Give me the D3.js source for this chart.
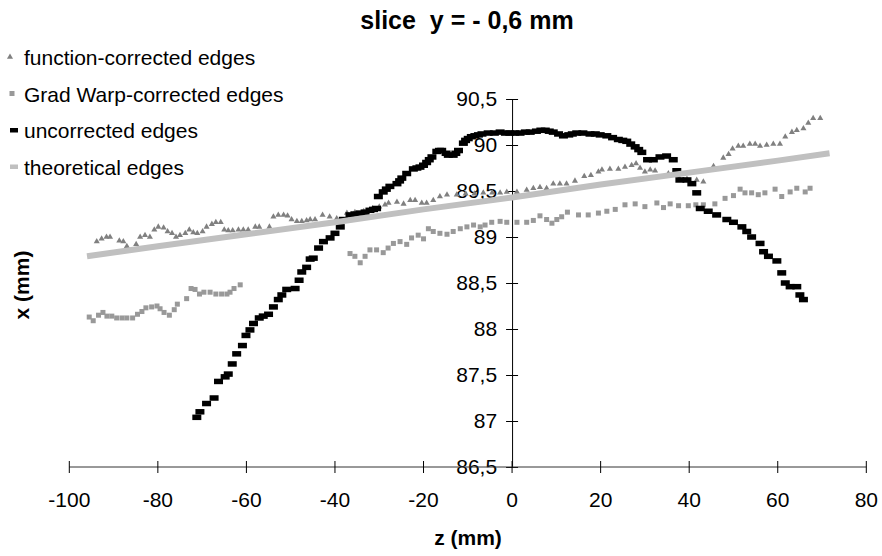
<!DOCTYPE html>
<html>
<head>
<meta charset="utf-8">
<script src="https://cdn.jsdelivr.net/npm/d3@7"></script>
<style>
  body { margin: 0; background: #fff; }
  svg { display: block; }
  text { font-family: "Liberation Sans", Arial, sans-serif; fill: #000; }
</style>
</head>
<body>
<div id="chart"></div>
<script>
// tick values
var zTicks = [-100, -80, -60, -40, -20, 0, 20, 40, 60, 80];
var xTicks = [86.5, 87, 87.5, 88, 88.5, 89, 89.5, 90, 90.5];

var seriesNames = ["function-corrected edges", "Grad Warp-corrected edges", "uncorrected edges", "theoretical edges"];

// [z (mm), x (mm)]
var funcEdges = [
  [-93.8, 88.95], [-92.7, 88.98], [-91.6, 89.00], [-90.8, 89.00], [-88.7, 88.96], [-87.8, 88.95],
  [-87.0, 88.90], [-84.9, 88.92], [-84.0, 89.00], [-82.9, 89.02], [-81.8, 89.00], [-80.8, 89.08],
  [-79.9, 89.11], [-78.7, 89.10], [-77.8, 89.06], [-76.8, 89.04], [-75.9, 89.00], [-75.0, 89.02],
  [-73.8, 89.04], [-72.9, 89.08], [-72.0, 89.05], [-71.1, 89.04], [-69.9, 89.06], [-69.0, 89.11],
  [-67.8, 89.14], [-66.9, 89.16], [-65.8, 89.16], [-65.0, 89.08], [-64.1, 89.07], [-63.1, 89.07],
  [-61.8, 89.08], [-60.7, 89.08], [-59.6, 89.08], [-58.0, 89.11], [-57.1, 89.11], [-54.8, 89.11],
  [-53.9, 89.22], [-52.8, 89.24], [-51.6, 89.24], [-50.7, 89.23], [-49.8, 89.19], [-48.6, 89.17],
  [-47.5, 89.17], [-46.4, 89.18], [-45.6, 89.19], [-44.5, 89.19], [-42.8, 89.24], [-41.2, 89.22],
  [-39.6, 89.20], [-37.3, 89.26], [-35.5, 89.27], [-33.5, 89.28], [-31.5, 89.31], [-30.0, 89.33],
  [-28.7, 89.35], [-27.9, 89.37], [-26.0, 89.38], [-24.5, 89.36], [-23.0, 89.40], [-21.9, 89.40],
  [-20.4, 89.37], [-19.3, 89.37], [-17.8, 89.40], [-16.3, 89.44], [-14.7, 89.46], [-12.5, 89.46],
  [-10.5, 89.47], [-8.5, 89.47], [-6.5, 89.48], [-4.5, 89.48], [-2.7, 89.48], [-1.2, 89.49],
  [1.1, 89.49], [3.3, 89.51], [4.8, 89.53], [6.3, 89.54], [7.8, 89.53], [9.3, 89.58],
  [10.8, 89.58], [12.3, 89.58], [14.2, 89.61], [16.3, 89.66], [17.8, 89.67], [19.5, 89.71],
  [20.3, 89.73], [22.1, 89.74], [24.0, 89.74], [25.5, 89.76], [27.0, 89.78], [28.0, 89.80],
  [28.9, 89.75], [30.0, 89.71], [31.2, 89.73], [32.3, 89.72], [35.3, 89.69], [37.5, 89.66],
  [39.5, 89.63], [41.7, 89.62], [43.2, 89.60], [45.5, 89.77], [47.7, 89.86], [48.9, 89.90],
  [49.8, 89.96], [51.1, 89.99], [52.2, 89.99], [53.7, 90.01], [54.9, 90.01], [56.0, 89.99],
  [57.5, 90.00], [59.0, 90.01], [60.5, 90.01], [61.7, 90.09], [63.2, 90.14], [64.3, 90.16],
  [65.8, 90.18], [66.9, 90.24], [68.0, 90.29], [69.6, 90.29]
];

var gradWarpEdges = [
  [-95.5, 88.13], [-94.6, 88.09], [-93.4, 88.15], [-92.4, 88.18], [-91.5, 88.14], [-90.4, 88.14],
  [-89.3, 88.12], [-88.1, 88.12], [-87.0, 88.12], [-85.7, 88.12], [-84.6, 88.16], [-83.6, 88.19],
  [-82.7, 88.23], [-81.4, 88.24], [-80.2, 88.25], [-79.5, 88.22], [-78.6, 88.18], [-77.4, 88.15],
  [-76.3, 88.21], [-75.6, 88.27], [-73.5, 88.33], [-72.5, 88.44], [-71.6, 88.43], [-70.6, 88.38],
  [-69.6, 88.40], [-68.2, 88.40], [-66.9, 88.38], [-65.6, 88.38], [-64.4, 88.38], [-63.7, 88.40],
  [-62.8, 88.44], [-61.4, 88.48],
  [-36.6, 88.82], [-35.5, 88.79], [-34.3, 88.72], [-33.2, 88.79], [-32.1, 88.86], [-30.6, 88.86],
  [-29.1, 88.83], [-28.0, 88.88], [-26.8, 88.93], [-25.3, 88.95], [-23.8, 88.92], [-22.7, 88.99],
  [-21.2, 89.02], [-20.0, 88.98], [-18.9, 89.09], [-17.8, 89.06], [-16.3, 89.04], [-14.7, 89.03],
  [-13.3, 89.06], [-11.7, 89.09], [-10.2, 89.11], [-8.7, 89.13], [-7.2, 89.11], [-6.1, 89.13],
  [-4.6, 89.16], [-2.7, 89.17], [-1.2, 89.16], [1.1, 89.16], [3.3, 89.16], [4.8, 89.18],
  [6.3, 89.23], [7.8, 89.19], [9.0, 89.15], [10.1, 89.19], [11.2, 89.22], [12.5, 89.27],
  [15.0, 89.24], [17.2, 89.24], [19.5, 89.26], [21.4, 89.28], [23.3, 89.30], [25.5, 89.35],
  [27.8, 89.36], [30.0, 89.33], [32.7, 89.37], [34.2, 89.32], [35.7, 89.36], [37.6, 89.34],
  [39.8, 89.34], [41.5, 89.35], [43.2, 89.35], [45.8, 89.36], [48.1, 89.42], [50.0, 89.45],
  [51.5, 89.52], [52.6, 89.48], [54.1, 89.48], [55.6, 89.46], [57.1, 89.48], [59.4, 89.52],
  [60.9, 89.44], [62.8, 89.49], [64.3, 89.53], [66.2, 89.49], [67.3, 89.53]
];

var uncorrectedEdges = [
  [-71.2, 87.04], [-70.5, 87.10], [-69.0, 87.19], [-67.3, 87.25], [-66.3, 87.43], [-64.8, 87.48],
  [-64.1, 87.51], [-63.2, 87.62], [-62.2, 87.73], [-60.9, 87.82], [-60.1, 87.93], [-59.2, 87.99],
  [-58.4, 88.06], [-57.1, 88.12], [-56.2, 88.14], [-55.0, 88.16], [-53.9, 88.24], [-52.8, 88.32],
  [-52.0, 88.37], [-50.9, 88.43], [-49.0, 88.44], [-48.1, 88.53], [-47.5, 88.62], [-46.4, 88.67],
  [-45.6, 88.76], [-44.9, 88.77], [-43.7, 88.88], [-42.6, 88.95], [-41.1, 88.99], [-40.0, 89.04],
  [-38.8, 89.11], [-38.1, 89.19], [-36.6, 89.24], [-35.5, 89.25], [-34.3, 89.26], [-33.2, 89.27],
  [-32.1, 89.29], [-31.3, 89.30], [-30.6, 89.31], [-30.2, 89.44], [-29.1, 89.49], [-28.4, 89.52],
  [-27.6, 89.55], [-26.0, 89.58], [-25.4, 89.61], [-24.9, 89.64], [-23.8, 89.69], [-22.3, 89.74],
  [-21.5, 89.75], [-20.8, 89.76], [-20.0, 89.78], [-19.3, 89.81], [-18.7, 89.84], [-18.1, 89.87],
  [-17.0, 89.93], [-16.4, 89.94], [-15.9, 89.94], [-14.9, 89.91], [-14.4, 89.89], [-13.3, 89.89],
  [-12.7, 89.91], [-12.1, 89.94], [-11.0, 90.02], [-10.5, 90.05], [-9.9, 90.07], [-9.2, 90.09],
  [-8.4, 90.10], [-7.6, 90.11], [-6.8, 90.12], [-5.4, 90.13], [-4.0, 90.13], [-2.7, 90.14],
  [-1.5, 90.13], [-0.5, 90.13], [0.6, 90.13], [1.8, 90.13], [3.0, 90.14], [4.1, 90.14],
  [5.5, 90.15], [6.5, 90.16], [7.5, 90.16], [8.4, 90.15], [9.3, 90.14], [10.5, 90.12],
  [11.6, 90.10], [12.8, 90.11], [13.6, 90.12], [14.6, 90.13], [16.0, 90.13], [17.6, 90.12],
  [18.8, 90.12], [19.9, 90.11], [21.4, 90.10], [22.7, 90.08], [24.0, 90.06], [25.0, 90.05],
  [25.9, 90.04], [26.8, 90.01], [27.8, 89.98], [28.6, 89.95], [29.3, 89.92], [30.6, 89.84],
  [31.9, 89.84], [33.4, 89.87], [34.9, 89.88], [36.4, 89.84], [37.2, 89.72], [37.9, 89.62],
  [39.5, 89.62], [40.6, 89.58], [41.7, 89.48], [42.5, 89.31], [44.3, 89.28], [46.2, 89.24],
  [48.5, 89.19], [50.0, 89.16], [51.9, 89.11], [53.0, 89.06], [54.1, 89.00], [56.0, 88.93],
  [56.8, 88.84], [57.9, 88.79], [59.8, 88.74], [60.9, 88.61], [61.7, 88.50], [62.8, 88.46],
  [64.3, 88.46], [65.0, 88.37], [65.8, 88.32]
];

var theoreticalEdges = [
  [-96, 88.79], [-80, 88.90], [-60, 89.03], [-40, 89.16], [-20, 89.30],
  [0, 89.43], [20, 89.57], [40, 89.70], [60, 89.83], [71.7, 89.91]
];

var width = 882, height = 556;

var svg = d3.select("#chart").append("svg")
  .attr("width", width)
  .attr("height", height);

var xScale = d3.scaleLinear().domain([-100, 80]).range([69.3, 866.3]);
var yScale = d3.scaleLinear().domain([86.5, 90.5]).range([467, 99]);

var loc = d3.formatLocale({ decimal: ",", thousands: ".", grouping: [3], currency: ["", ""], minus: "-" });
var fmt = loc.format("~f");

// title
svg.append("text")
  .attr("x", 467).attr("y", 29)
  .attr("text-anchor", "middle")
  .style("font-size", "25px").style("font-weight", "bold")
  .attr("xml:space", "preserve")
  .text("slice  y = - 0,6 mm");

// y axis (crossing at z = 0)
var yAxis = svg.append("g")
  .attr("transform", "translate(" + xScale(0) + ",0)")
  .call(d3.axisLeft(yScale).tickValues(xTicks).tickSizeInner(6).tickSizeOuter(0).tickPadding(9).tickFormat(fmt));
yAxis.selectAll(".tick line").attr("x1", 6);
yAxis.selectAll("text").style("font-size", "21px").style("font-family", "'Liberation Sans', Arial, sans-serif");
yAxis.select(".domain").attr("stroke", "#000");

// x axis at bottom
var xAxis = svg.append("g")
  .attr("transform", "translate(0," + yScale(86.5) + ")")
  .call(d3.axisBottom(xScale).tickValues(zTicks).tickSizeInner(6).tickSizeOuter(0).tickPadding(19).tickFormat(fmt).offset(0));
xAxis.selectAll(".tick line").attr("y1", -6);
xAxis.selectAll("text").style("font-size", "21px").style("font-family", "'Liberation Sans', Arial, sans-serif");
xAxis.select(".domain").attr("stroke", "#333");

// axis titles
svg.append("text")
  .attr("x", 468).attr("y", 545)
  .attr("text-anchor", "middle")
  .style("font-size", "21px").style("font-weight", "bold")
  .text("z (mm)");

svg.append("text")
  .attr("transform", "translate(29,285) rotate(-90)")
  .attr("text-anchor", "middle")
  .style("font-size", "21px").style("font-weight", "bold")
  .text("x (mm)");

// series
var tri = d3.symbol().type(d3.symbolTriangle).size(16);

svg.append("g").selectAll("path")
  .data(funcEdges)
  .enter().append("path")
  .attr("d", tri)
  .attr("transform", function(d) { return "translate(" + xScale(d[0]) + "," + yScale(d[1]) + ")"; })
  .attr("fill", "#808080");

svg.append("g").selectAll("rect")
  .data(gradWarpEdges)
  .enter().append("rect")
  .attr("x", function(d) { return xScale(d[0]) - 2.5; })
  .attr("y", function(d) { return yScale(d[1]) - 2.5; })
  .attr("width", 5).attr("height", 5)
  .attr("fill", "#999999");

svg.append("g").selectAll("rect")
  .data(uncorrectedEdges)
  .enter().append("rect")
  .attr("x", function(d) { return xScale(d[0]) - 4.5; })
  .attr("y", function(d) { return yScale(d[1]) - 2.75; })
  .attr("width", 9).attr("height", 5.5)
  .attr("fill", "#000");

var line = d3.line()
  .x(function(d) { return xScale(d[0]); })
  .y(function(d) { return yScale(d[1]); });

svg.append("path")
  .datum(theoreticalEdges)
  .attr("d", line)
  .attr("fill", "none")
  .attr("stroke", "#c0c0c0")
  .attr("stroke-width", 6);

// legend
var legend = svg.append("g");
var rowY = [57, 93.5, 130, 166.5];

legend.append("path")
  .attr("d", tri)
  .attr("transform", "translate(10," + rowY[0] + ")")
  .attr("fill", "#808080");
legend.append("rect")
  .attr("x", 9.5).attr("y", rowY[1] - 2.5).attr("width", 5).attr("height", 5)
  .attr("fill", "#999999");
legend.append("rect")
  .attr("x", 10).attr("y", rowY[2] - 2).attr("width", 8).attr("height", 4.5)
  .attr("fill", "#000");
legend.append("rect")
  .attr("x", 10).attr("y", rowY[3] - 2).attr("width", 8).attr("height", 4.5)
  .attr("fill", "#c0c0c0");

legend.selectAll("text")
  .data(seriesNames)
  .enter().append("text")
  .attr("x", 24)
  .attr("y", function(d, i) { return rowY[i] + 8; })
  .style("font-size", "21px")
  .text(function(d) { return d; });
</script>
</body>
</html>
